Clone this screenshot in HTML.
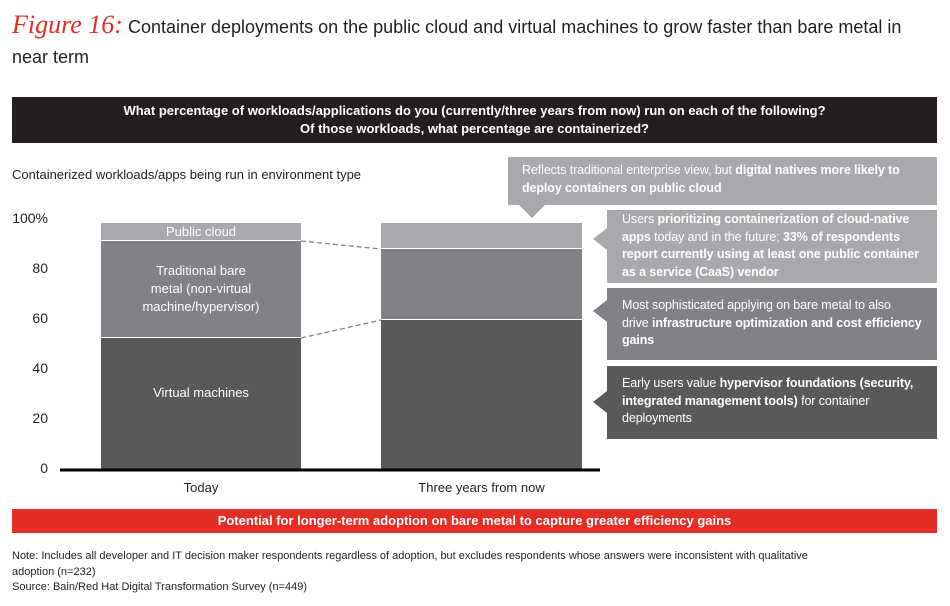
<!DOCTYPE html>
<html><head><meta charset="utf-8"><style>
body{margin:0;width:950px;height:606px;background:#fff;position:relative;overflow:hidden;font-family:"Liberation Sans",sans-serif;color:#231f20}
.a{position:absolute}
.box{position:absolute;color:#fff;font-size:12.5px;line-height:17.5px;box-sizing:border-box;letter-spacing:-0.1px;white-space:nowrap}
b{font-weight:bold}
.yl{position:absolute;left:0;width:48px;text-align:right;font-size:14px;color:#231f20}
</style></head><body>
<div class="a" style="left:12px;top:10px;font-size:18px;line-height:30px;width:935px;white-space:nowrap">
<span style="font-family:'Liberation Serif',serif;font-style:italic;color:#e42d24;font-size:26px">Figure 16:</span> Container deployments on the public cloud and virtual machines to grow faster than bare metal in<br>near term</div>
<div class="a" style="left:12px;top:97px;width:925px;height:46px;background:#231f20;color:#fff;font-weight:bold;font-size:13px;line-height:18px;text-align:center;padding-top:5px;box-sizing:border-box">What percentage of workloads/applications do you (currently/three years from now) run on each of the following?<br>Of those workloads, what percentage are containerized?</div>
<div class="a" style="left:12px;top:167px;font-size:13px">Containerized workloads/apps being run in environment type</div>

<div class="yl" style="top:210px">100%</div>
<div class="yl" style="top:260px">80</div>
<div class="yl" style="top:310px">60</div>
<div class="yl" style="top:360px">40</div>
<div class="yl" style="top:410px">20</div>
<div class="yl" style="top:460px">0</div>

<svg class="a" style="left:0;top:0" width="950" height="606">
<rect x="101" y="223" width="200" height="17" fill="#a7a9ac"/>
<rect x="101" y="241" width="200" height="96" fill="#808285"/>
<rect x="101" y="338" width="200" height="132" fill="#58595b"/>
<rect x="381" y="223" width="201" height="25" fill="#a7a9ac"/>
<rect x="381" y="249" width="201" height="70" fill="#808285"/>
<rect x="381" y="320" width="201" height="150" fill="#58595b"/>
<line x1="301" y1="241" x2="381" y2="249" stroke="#808285" stroke-width="1.3" stroke-dasharray="5,3"/>
<line x1="301" y1="338" x2="381" y2="320" stroke="#808285" stroke-width="1.3" stroke-dasharray="5,3"/>
<line x1="60" y1="470" x2="600" y2="470" stroke="#000" stroke-width="3"/>
<polygon points="508,157 937,157 937,205 545,205 532,218 519,205 508,205" fill="#a7a9ac"/>
<polygon points="607,210 937,210 937,283 607,283 607,250 593,239 607,228" fill="#a7a9ac"/>
<polygon points="607,288 937,288 937,360 607,360 607,322 593,311 607,300" fill="#808285"/>
<polygon points="607,366 937,366 937,439 607,439 607,413 593,402 607,391" fill="#58595b"/>
</svg>
<div class="a" style="left:101px;top:224px;width:200px;text-align:center;color:#fff;font-size:13px">Public cloud</div>
<div class="a" style="left:101px;top:262px;width:200px;text-align:center;color:#fff;font-size:13px;line-height:18px">Traditional bare<br>metal (non-virtual<br>machine/hypervisor)</div>
<div class="a" style="left:101px;top:385px;width:200px;text-align:center;color:#fff;font-size:13px">Virtual machines</div>
<div class="a" style="left:101px;top:480px;width:200px;text-align:center;font-size:13px">Today</div>
<div class="a" style="left:381px;top:480px;width:201px;text-align:center;font-size:13px">Three years from now</div>

<div class="box" style="left:508px;top:157px;width:429px;padding:5px 0 0 14px">Reflects traditional enterprise view, but <b>digital natives more likely to</b><br><b>deploy containers on public cloud</b></div>
<div class="box" style="left:607px;top:210px;width:330px;padding:1px 4px 0 15px">Users <b>prioritizing containerization of cloud-native</b><br><b>apps</b> today and in the future; <b>33% of respondents</b><br><b>report currently using at least one public container</b><br><b>as a service (CaaS) vendor</b></div>
<div class="box" style="left:607px;top:288px;width:330px;padding:9px 4px 0 15px">Most sophisticated applying on bare metal to also<br>drive <b>infrastructure optimization and cost efficiency</b><br><b>gains</b></div>
<div class="box" style="left:607px;top:366px;width:330px;padding:9px 4px 0 15px">Early users value <b>hypervisor foundations (security,</b><br><b>integrated management tools)</b> for container<br>deployments</div>

<div class="a" style="left:12px;top:509px;width:925px;height:24px;background:#e42d24;color:#fff;font-weight:bold;font-size:13px;line-height:24px;text-align:center">Potential for longer-term adoption on bare metal to capture greater efficiency gains</div>
<div class="a" style="left:12px;top:549px;width:920px;font-size:11px;line-height:15.5px">Note: Includes all developer and IT decision maker respondents regardless of adoption, but excludes respondents whose answers were inconsistent with qualitative<br>adoption (n=232)<br>Source: Bain/Red Hat Digital Transformation Survey (n=449)</div>
</body></html>
